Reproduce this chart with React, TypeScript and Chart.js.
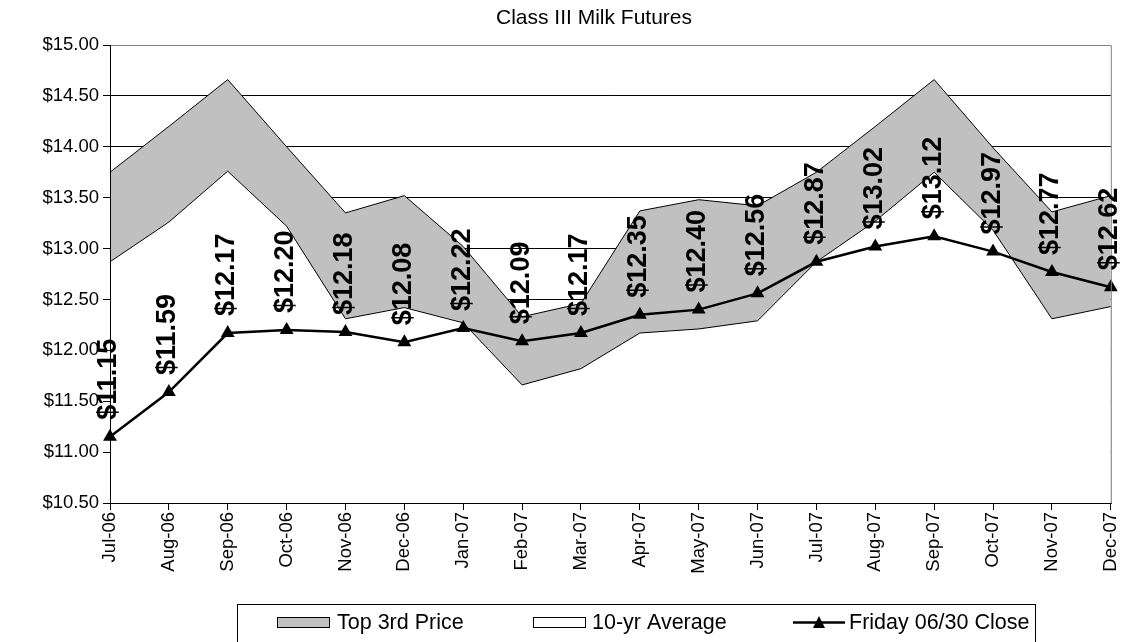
import React, { useEffect, useRef } from 'react';
import { Chart, registerables } from 'chart.js';

Chart.register(...registerables);

const months = ['Jul-06', 'Aug-06', 'Sep-06', 'Oct-06', 'Nov-06', 'Dec-06', 'Jan-07', 'Feb-07', 'Mar-07', 'Apr-07', 'May-07', 'Jun-07', 'Jul-07', 'Aug-07', 'Sep-07', 'Oct-07', 'Nov-07', 'Dec-07'];
const top3rdPrice = [13.75, 14.2, 14.66, 14.0, 13.35, 13.52, 13.02, 12.33, 12.46, 13.37, 13.48, 13.42, 13.75, 14.2, 14.66, 13.99, 13.36, 13.52];
const tenYearAverage = [12.87, 13.26, 13.76, 13.22, 12.31, 12.42, 12.27, 11.66, 11.82, 12.17, 12.21, 12.29, 12.87, 13.27, 13.75, 13.18, 12.31, 12.43];
const fridayClose = [11.15, 11.59, 12.17, 12.2, 12.18, 12.08, 12.22, 12.09, 12.17, 12.35, 12.4, 12.56, 12.87, 13.02, 13.12, 12.97, 12.77, 12.62];
const seriesNames = ['Top 3rd Price', '10-yr Average', 'Friday 06/30 Close'];
const chartTitle = 'Class III Milk Futures';
const yMin = 10.5;
const yMax = 15;
const yStep = 0.5;

const SANS = '"Liberation Sans", Arial, sans-serif';
const GRAY = '#c0c0c0';

const fmt = (v: number) => '$' + v.toFixed(2);

const decorPlugin = {
  id: 'decor',
  afterDatasetsDraw(chart: any) {
    const ctx = chart.ctx;
    const a = chart.chartArea;
    ctx.save();
    ctx.strokeStyle = '#808080';
    ctx.lineWidth = 1;
    ctx.beginPath();
    ctx.moveTo(a.left, a.top + 0.5);
    ctx.lineTo(a.right + 0.5, a.top + 0.5);
    ctx.lineTo(a.right + 0.5, a.bottom);
    ctx.stroke();
    ctx.strokeStyle = '#000';
    ctx.beginPath();
    ctx.moveTo(a.left + 0.5, a.top);
    ctx.lineTo(a.left + 0.5, a.bottom + 0.5);
    ctx.lineTo(a.right + 1, a.bottom + 0.5);
    ctx.stroke();

    const meta = chart.getDatasetMeta(2);
    ctx.fillStyle = '#000';
    ctx.font = 'bold 27px ' + SANS;
    ctx.textAlign = 'left';
    ctx.textBaseline = 'middle';
    meta.data.forEach((pt: any, i: number) => {
      ctx.save();
      ctx.translate(pt.x - 1, pt.y - 17);
      ctx.rotate(-Math.PI / 2);
      ctx.fillText(fmt(fridayClose[i]), 0, 0);
      ctx.restore();
    });
    ctx.restore();
  },
  afterDraw(chart: any) {
    const ctx = chart.ctx;
    ctx.save();
    ctx.fillStyle = '#000';
    ctx.font = '21px ' + SANS;
    ctx.textAlign = 'center';
    ctx.textBaseline = 'middle';
    ctx.fillText(chartTitle, 594, 18);

    ctx.strokeStyle = '#000';
    ctx.lineWidth = 1;
    ctx.strokeRect(237.5, 604.5, 798, 44);
    ctx.font = '21.5px ' + SANS;
    ctx.textAlign = 'left';
    const ly = 623;
    ctx.fillStyle = GRAY;
    ctx.fillRect(277, 617, 53, 11);
    ctx.strokeRect(277.5, 617.5, 52, 10);
    ctx.fillStyle = '#000';
    ctx.fillText(seriesNames[0], 337, ly);
    ctx.fillStyle = '#fff';
    ctx.fillRect(533, 617, 53, 11);
    ctx.strokeRect(533.5, 617.5, 52, 10);
    ctx.fillStyle = '#000';
    ctx.fillText(seriesNames[1], 592, ly);
    ctx.lineWidth = 2.5;
    ctx.beginPath();
    ctx.moveTo(793, 622.5);
    ctx.lineTo(845, 622.5);
    ctx.stroke();
    ctx.beginPath();
    ctx.moveTo(819, 616);
    ctx.lineTo(825, 628);
    ctx.lineTo(813, 628);
    ctx.closePath();
    ctx.fill();
    ctx.fillText(seriesNames[2], 849, ly);
    ctx.restore();
  },
};

export default function App() {
  const ref = useRef<HTMLCanvasElement | null>(null);
  useEffect(() => {
    if (!ref.current) return;
    const chart = new Chart(ref.current, {
      type: 'line',
      data: {
        labels: months,
        datasets: [
          {
            label: seriesNames[0],
            data: top3rdPrice,
            fill: 'start',
            backgroundColor: GRAY,
            borderColor: '#000',
            borderWidth: 1,
            pointRadius: 0,
            tension: 0,
            order: 3,
          },
          {
            label: seriesNames[1],
            data: tenYearAverage,
            fill: 'start',
            backgroundColor: '#fff',
            borderColor: '#000',
            borderWidth: 1,
            pointRadius: 0,
            tension: 0,
            order: 2,
          },
          {
            label: seriesNames[2],
            data: fridayClose,
            fill: false,
            borderColor: '#000',
            backgroundColor: '#000',
            borderWidth: 2.5,
            pointStyle: 'triangle',
            pointRadius: 5.5,
            pointBackgroundColor: '#000',
            pointBorderColor: '#000',
            tension: 0,
            order: 1,
          },
        ],
      },
      options: {
        responsive: false,
        animation: false,
        layout: { padding: { top: 45, right: 16, left: 0, bottom: 0 } },
        plugins: {
          legend: { display: false },
          title: { display: false },
          tooltip: { enabled: false },
        },
        scales: {
          x: {
            type: 'category',
            offset: false,
            grid: { drawOnChartArea: false, tickLength: 7, color: '#000', tickColor: '#000' },
            border: { color: '#000' },
            ticks: {
              autoSkip: false,
              minRotation: 90,
              maxRotation: 90,
              color: '#000',
              padding: 2,
              font: { family: SANS, size: 18.5 },
            },
            afterFit: (s: any) => {
              s.height = 139;
            },
          },
          y: {
            min: yMin,
            max: yMax,
            grid: {
              color: (c: any) => (c.tick && c.tick.value === yMax ? '#808080' : '#000'),
              tickColor: '#000',
              tickLength: 7,
            },
            border: { color: '#000' },
            ticks: {
              stepSize: yStep,
              color: '#000',
              padding: 4,
              font: { family: SANS, size: 18.5 },
              callback: (v: any) => fmt(Number(v)),
            },
            afterFit: (s: any) => {
              s.width = 110;
            },
          },
        },
      },
      plugins: [decorPlugin],
    });
    return () => chart.destroy();
  }, []);
  return (
    <div style={{ position: 'fixed', left: 0, top: 0, width: 1135, height: 642, background: '#fff' }}>
      <canvas ref={ref} width={1135} height={642} style={{ display: 'block' }} />
    </div>
  );
}
